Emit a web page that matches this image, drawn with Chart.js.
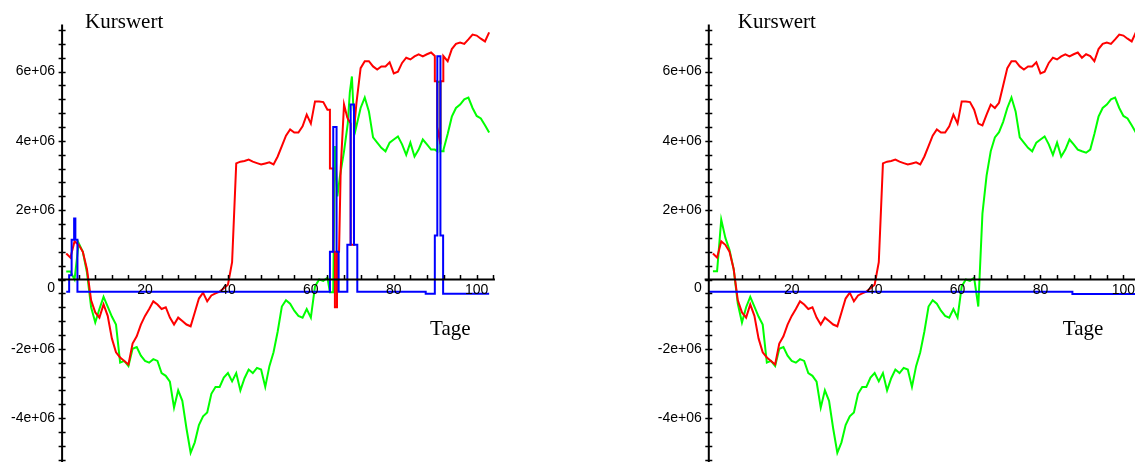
<!DOCTYPE html>
<html>
<head>
<meta charset="utf-8">
<script src="https://cdn.jsdelivr.net/npm/chart.js@4.4.1/dist/chart.umd.min.js"></script>
<style>
  body { margin: 0; background: #fff; width: 1135px; height: 462px; overflow: hidden; position: relative; }
  canvas { position: absolute; top: 0; }
  #links { left: 0; }
  #rechts { left: 567px; }
</style>
</head>
<body>
<canvas id="links" width="567" height="462"></canvas>
<canvas id="rechts" width="568" height="462"></canvas>
<script>
// Werte in Mio. (1 = 1e+06), Tage 1..103
const tage = Array.from({ length: 103 }, (_, i) => i + 1);

const rotWerte = [
  0.75, 0.63, 1.1, 1.0, 0.8, 0.3, -0.6, -0.95, -1.1, -0.72,
  -1.05, -1.7, -2.1, -2.25, -2.35, -2.45, -1.85, -1.64, -1.3, -1.05,
  -0.85, -0.63, -0.72, -0.85, -0.8, -1.1, -1.3, -1.1, -1.2, -1.3,
  -1.35, -0.95, -0.55, -0.38, -0.63, -0.46, -0.4, -0.35, -0.25, -0.15,
  0.5, 3.35, 3.4, 3.42, 3.46, 3.4, 3.36, 3.32, 3.35, 3.38,
  3.32, 3.55, 3.85, 4.15, 4.33, 4.24, 4.24, 4.42, 4.76, 4.5,
  5.14, 5.14, 5.12, 4.9, 4.5, 4.45, 4.76, 5.05, 4.95, 5.1,
  5.6, 6.1, 6.3, 6.3, 6.15, 6.06, 6.15, 6.15, 6.27, 5.95,
  6.0, 6.25, 6.4, 6.35, 6.44, 6.5, 6.44, 6.5, 6.55, 6.4,
  6.5, 6.45, 6.3, 6.65, 6.8, 6.84, 6.8, 6.93, 7.07, 7.04,
  6.95, 6.87, 7.13
];

const gruenWerteR = [
  0.24, 0.24, 1.73, 1.2, 0.85, 0.3, -0.7, -1.24, -0.8, -0.5,
  -0.78, -1.07, -1.3, -2.4, -2.35, -2.5, -2.0, -1.95, -2.2, -2.35,
  -2.4, -2.3, -2.35, -2.7, -2.78, -2.95, -3.7, -3.2, -3.5, -4.3,
  -5.0, -4.7, -4.2, -3.95, -3.84, -3.3, -3.1, -3.1, -2.83, -2.7,
  -2.94, -2.7, -3.2, -2.85, -2.6, -2.7, -2.55, -2.6, -3.1, -2.5,
  -2.1, -1.5, -0.78, -0.6, -0.7, -0.9, -1.05, -1.1, -0.85, -1.1,
  -0.2, 0.0, -0.04, 0.05, -0.78, 1.9, 3.0, 3.7, 4.1, 4.25,
  4.55, 4.95, 5.25, 4.85, 4.1, 3.95, 3.8, 3.7, 3.95, 4.04,
  4.13, 3.9, 3.6, 3.95, 3.55, 3.75, 4.04, 3.9, 3.75, 3.7,
  3.66, 3.75, 4.2, 4.7, 4.95, 5.05, 5.2, 5.25, 4.95, 4.72,
  4.65, 4.45, 4.24
];

// linkes Bild: andere erste Tage beim gruenen Verlauf
const gruenStartL = [0.23, 0.23, 0.0, 1.05, 0.8, 0.2, -0.8, -1.24, -0.85];

// linkes Bild: Stoerstellen (Tage mit Bruchteilen)
const stoerFenster = [[64.5, 67.5], [68.7, 71.3], [89.8, 92.0]];
const rotStoerTage = [64.6, 64.6, 65.4, 65.4, 65.8, 65.8, 66.3, 66.3, 66.8, 67.2,
  68.8, 69.6, 69.6, 70.4, 70.4, 71.0,
  89.9, 89.9, 90.5, 90.5, 91.25, 91.25, 91.9, 91.9];
const rotStoerWerte = [4.9, 3.2, 3.2, 0.8, 0.8, -0.8, -0.8, 0.8, 0.8, 3.2,
  4.67, 4.5, 1.0, 1.0, 4.3, 5.1,
  6.45, 5.72, 5.72, 4.4, 3.9, 5.72, 5.72, 6.35];
const gruenStoerTage = [64.6, 65.4, 65.8, 66.4, 67.0,
  68.9, 69.4, 69.9, 70.2, 70.8,
  89.9, 90.5, 90.5, 91.25, 91.25, 91.9];
const gruenStoerWerte = [-0.37, -0.37, 3.85, 2.4, 2.97,
  4.5, 5.4, 5.86, 5.1, 4.33,
  3.75, 3.7, 5.7, 5.7, 3.7, 3.7];

const blauTageL = [1, 1.7, 1.7, 2.3, 2.3, 2.9, 2.9, 3.2, 3.2, 3.7, 3.7,
  64.6, 64.6, 65.4, 65.4, 66.2, 66.2, 66.7, 66.7,
  68.8, 68.8, 69.6, 69.6, 70.4, 70.4, 71.2, 71.2,
  87.7, 87.7, 89.9, 89.9, 90.5, 90.5, 91.25, 91.25, 91.9, 91.9, 103];
const blauWerteL = [-0.35, -0.35, 0.12, 0.12, 1.15, 1.15, 1.76, 1.76, 1.15, 1.15, -0.35,
  -0.35, 0.8, 0.8, 4.4, 4.4, 0.8, 0.8, -0.35,
  -0.35, 1.0, 1.0, 5.05, 5.05, 1.0, 1.0, -0.35,
  -0.35, -0.41, -0.41, 1.27, 1.27, 6.44, 6.44, 1.27, 1.27, -0.41, -0.41];
const blauTageR = [0, 87.7, 87.7, 103];
const blauWerteR = [-0.35, -0.35, -0.42, -0.42];

const yTickWerte = [-4, -2, 2, 4, 6];
const yTickTexte = ['-4e+06', '-2e+06', '2e+06', '4e+06', '6e+06'];
const xTickWerte = [20, 40, 60, 80, 100];
const xTickTexte = ['20', '40', '60', '80', '100'];

// Pixelmassstab wie im Original
const PX_TAG = 4.146;
const PX_MIO = 34.65;
const NULL_Y = 279.5;

function punkte(xs, ys) {
  return xs.map((x, i) => ({ x: x, y: ys[i] }));
}

function mitStoerungen(werte, stTage, stWerte) {
  const pkt = punkte(tage, werte).filter(p => !stoerFenster.some(([a, b]) => p.x > a && p.x < b));
  stTage.forEach((t, i) => pkt.push({ x: t, y: stWerte[i] }));
  return pkt.sort((a, b) => a.x - b.x);
}

const mapleAchsen = {
  id: 'mapleAchsen',
  afterDatasetsDraw(chart, args, o) {
    const { ctx, scales: { x, y } } = chart;
    const px = x.getPixelForValue(0);
    const py = y.getPixelForValue(0);
    ctx.save();
    ctx.strokeStyle = '#000';
    ctx.fillStyle = '#000';
    ctx.lineWidth = 2;
    ctx.beginPath();
    ctx.moveTo(px, y.getPixelForValue(7.36));
    ctx.lineTo(px, chart.height);
    ctx.moveTo(x.getPixelForValue(-1), py);
    ctx.lineTo(x.getPixelForValue(o.xEnde), py);
    ctx.stroke();

    ctx.lineWidth = 1.5;
    ctx.beginPath();
    for (let k = -13; k <= 18; k++) {
      const ty = Math.round(y.getPixelForValue(k * 0.4)) + 0.5;
      ctx.moveTo(px - 3.5, ty);
      ctx.lineTo(px + 3.5, ty);
    }
    for (let k = 1; k * 4 <= o.xEnde; k++) {
      const tx = Math.round(x.getPixelForValue(k * 4)) + 0.5;
      ctx.moveTo(tx, py - 4.5);
      ctx.lineTo(tx, py);
    }
    ctx.stroke();

    ctx.font = '14px "Liberation Sans", Arial, sans-serif';
    ctx.textAlign = 'right';
    ctx.textBaseline = 'middle';
    yTickWerte.forEach((v, i) => ctx.fillText(yTickTexte[i], px - 7, y.getPixelForValue(v)));
    ctx.fillText('0', px - 7, py + 9);
    ctx.textAlign = 'center';
    ctx.textBaseline = 'top';
    xTickWerte.forEach((v, i) => ctx.fillText(xTickTexte[i], x.getPixelForValue(v), py + 4));

    ctx.font = '21px "Liberation Serif", "Times New Roman", serif';
    ctx.textAlign = 'left';
    ctx.textBaseline = 'alphabetic';
    ctx.fillText('Kurswert', px + o.titelDx, 28);
    ctx.fillText('Tage', px + o.tageDx, 335);
    ctx.restore();
  }
};

function linie(daten, farbe) {
  return { data: daten, borderColor: farbe, borderWidth: 2, pointRadius: 0, tension: 0, fill: false };
}

function zeichne(id, nullX, reihen, achsenOpt) {
  const canvas = document.getElementById(id);
  const w = canvas.width, h = canvas.height;
  return new Chart(canvas, {
    type: 'line',
    data: { datasets: reihen },
    options: {
      responsive: false,
      animation: false,
      devicePixelRatio: 1,
      events: [],
      layout: { padding: 0 },
      plugins: { legend: { display: false }, tooltip: { enabled: false }, mapleAchsen: achsenOpt },
      scales: {
        x: { type: 'linear', display: false, min: -nullX / PX_TAG, max: (w - nullX) / PX_TAG },
        y: { type: 'linear', display: false, min: -(h - NULL_Y) / PX_MIO, max: NULL_Y / PX_MIO }
      }
    },
    plugins: [mapleAchsen]
  });
}

const gruenWerteL = gruenStartL.concat(gruenWerteR.slice(gruenStartL.length));

zeichne('links', 62.1, [
  linie(punkte(blauTageL, blauWerteL), 'rgb(0,0,255)'),
  linie(mitStoerungen(rotWerte, rotStoerTage, rotStoerWerte), 'rgb(255,0,0)'),
  linie(mitStoerungen(gruenWerteL, gruenStoerTage, gruenStoerWerte), 'rgb(0,255,0)')
], { xEnde: 104.4, titelDx: 23, tageDx: 368 });

zeichne('rechts', 708.8 - 567, [
  linie(punkte(blauTageR, blauWerteR), 'rgb(0,0,255)'),
  linie(punkte(tage, rotWerte), 'rgb(255,0,0)'),
  linie(punkte(tage, gruenWerteR), 'rgb(0,255,0)')
], { xEnde: 110, titelDx: 29, tageDx: 354 });
</script>
</body>
</html>
